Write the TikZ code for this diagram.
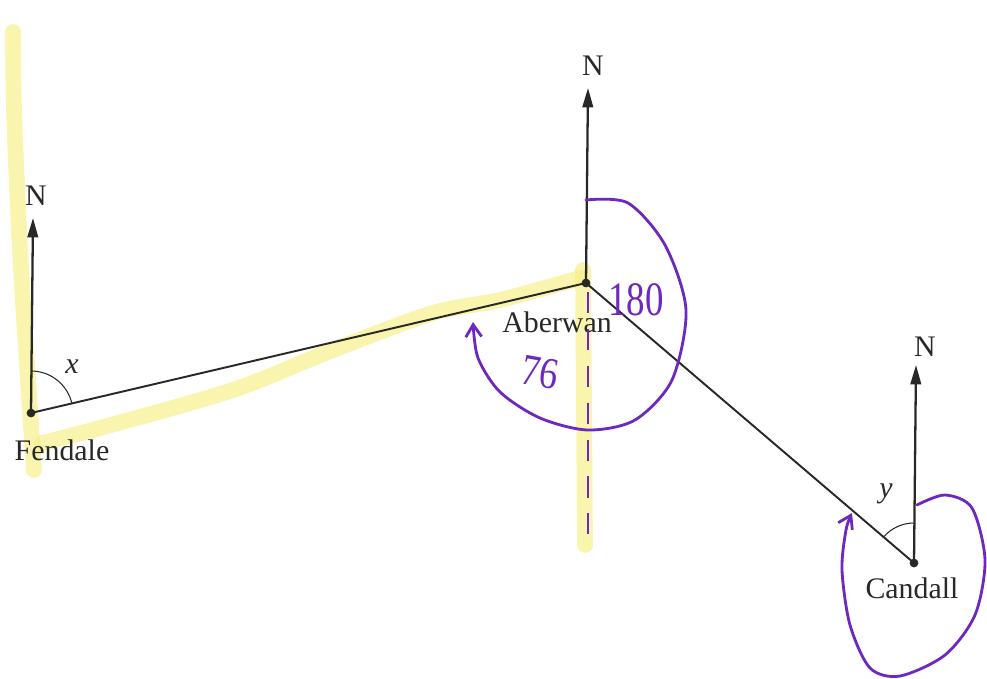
\documentclass[tikz,border=0pt]{standalone}
\usepackage{fontspec}
\setmainfont{Liberation Serif}
\usetikzlibrary{arrows.meta}
\definecolor{hl}{RGB}{246,240,140}
\definecolor{pen}{RGB}{110,40,190}
\definecolor{ink}{RGB}{40,40,40}
\tikzset{
  hilite/.style={hl, line width=9pt, line cap=round, line join=round, opacity=0.7},
  penline/.style={pen, line width=1.6pt, line cap=round, line join=round},
  bearing/.style={ink, line width=1.1pt},
  north/.style={ink, line width=1.3pt, -{Triangle[length=11pt,width=6pt]}},
  place/.style={circle, fill=ink, inner sep=0pt, minimum size=5pt},
  lbl/.style={font=\fontsize{17}{20}\selectfont, text=ink, inner sep=1pt},
  ang/.style={ink, line width=0.6pt}
}
\begin{document}
\begin{tikzpicture}[x=0.02cm,y=-0.02cm]
\useasboundingbox (0,0) rectangle (987,679);
% highlighter
\draw[hilite] plot[smooth] coordinates {(13,32) (14,110) (20,250) (28,380) (34,470)};
\draw[hilite] plot[smooth] coordinates {(42,443) (100,428) (233,390) (333,350) (433,313) (500,300) (580,278)};
\draw[hilite] (583,270) -- (585,545);
% places
\node[place] (F) at (31,413) {};
\node[place] (A) at (586,283) {};
\node[place] (C) at (914,563) {};
% north arrows
\coordinate (FN) at (33,218);
\coordinate (AN) at (588,88);
\coordinate (CN) at (916,365);
\draw[north] (F.center) -- (FN);
\draw[north] (A.center) -- (AN);
\draw[north] (C.center) -- (CN);
\node[lbl] (FNl) at (36,196) {N};
\node[lbl] (ANl) at (593,66) {N};
\node[lbl] (CNl) at (925,347) {N};
% bearing lines
\draw[bearing] (F.center) -- (A.center);
\draw[bearing] (A.center) -- (C.center);
% angle arcs (y axis points down, so "up" is -90)
\draw[ang] (31,371) arc[start angle=-90, end angle=-13.2, radius=42];
\draw[ang] (914,523) arc[start angle=-90, end angle=-139.5, radius=40];
\node[lbl, font=\fontsize{17}{20}\selectfont\itshape] (xl) at (72,367) {x};
\node[lbl, font=\fontsize{17}{20}\selectfont\itshape] (yl) at (886,494) {y};
% place names
\node[lbl] (Fl) at (62,450) {Fendale};
\node[lbl] (Al) at (557,322) {Aberwan};
\node[lbl] (Cl) at (912,588) {Candall};
% pen annotations
\draw[penline, -{Straight Barb[length=7pt,width=9pt]}] plot[smooth] coordinates {(586,200) (628,203) (665,245) (686,310) (672,380) (635,420) (588,430) (540,418) (500,392) (478,358) (473,322)};
\draw[pen, line width=1pt, dash pattern=on 12pt off 9pt] (588,292) -- (588,547);
\node[text=pen, font=\fontsize{21}{22}\selectfont, yscale=1.3] (n180) at (636,300) {180};
\node[text=pen, font=\fontsize{21}{22}\selectfont, rotate=-10, yscale=1.2] (n76) at (540,372) {76};
\draw[penline, -{Straight Barb[length=7pt,width=9pt]}] plot[smooth] coordinates {(917,505) (945,495) (972,508) (985,560) (975,615) (945,655) (900,676) (870,668) (850,625) (842,570) (846,530) (852,513)};
\end{tikzpicture}
\end{document}
